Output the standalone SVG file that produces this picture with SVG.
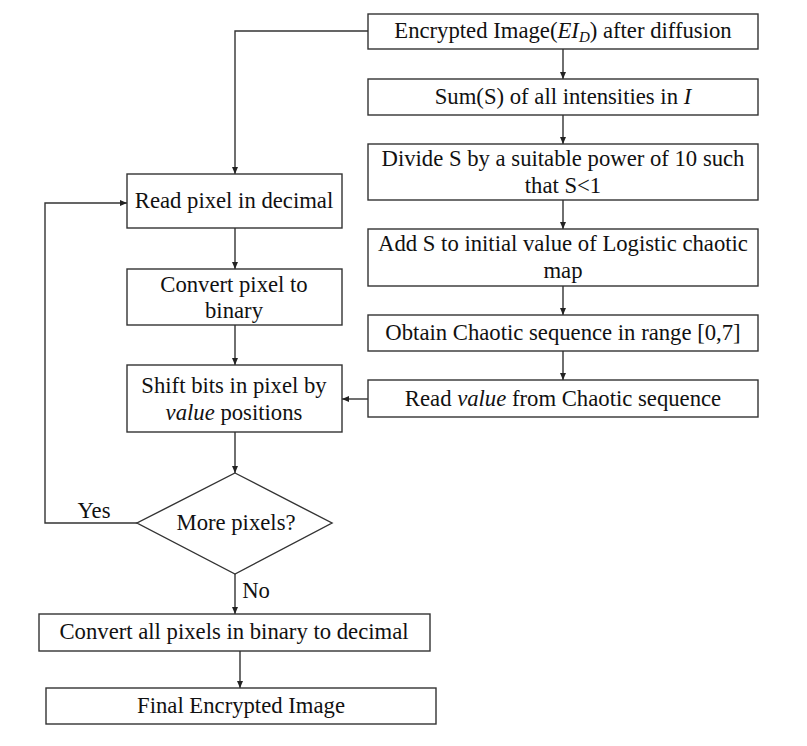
<svg xmlns="http://www.w3.org/2000/svg" width="807" height="746" viewBox="0 0 807 746">
<defs>
<marker id="ah" markerWidth="8" markerHeight="8" refX="7" refY="4" orient="auto" markerUnits="userSpaceOnUse">
<path d="M0,1 L7,4 L0,7 Z" fill="#222"/>
</marker>
<style>
.b{fill:#fff;stroke:#333;stroke-width:1.4}
.t{font-family:"Liberation Serif","Times New Roman",serif;font-size:22.7px;fill:#111;text-anchor:middle}
.c{fill:none;stroke:#333;stroke-width:1.4;marker-end:url(#ah)}
</style>
</defs>
<rect width="807" height="746" fill="#fff"/>
<g id="connectors">
<path class="c" d="M368,31 H235 V174"/>
<path class="c" d="M563,49 V79"/>
<path class="c" d="M563,115 V144"/>
<path class="c" d="M563,200 V229"/>
<path class="c" d="M563,286 V315"/>
<path class="c" d="M563,351 V380"/>
<path class="c" d="M368,399 H342"/>
<path class="c" d="M235,228 V269"/>
<path class="c" d="M235,325 V365"/>
<path class="c" d="M235,432 V473"/>
<path class="c" d="M137,523 H45 V203 H127"/>
<path class="c" d="M235,574 V614"/>
<path class="c" d="M240,651 V688"/>
<text class="t" x="94" y="518">Yes</text>
<text class="t" x="256" y="598">No</text>
</g>
<g id="n_ei"><rect class="b" x="368" y="14" width="390" height="35"/><text class="t" x="563" y="38">Encrypted Image(<tspan font-style="italic">EI</tspan><tspan font-style="italic" font-size="15" dy="4">D</tspan><tspan dy="-4">) after diffusion</tspan></text></g>
<g id="n_sum"><rect class="b" x="368" y="79" width="390" height="36"/><text class="t" x="563" y="104">Sum(S) of all intensities in <tspan font-style="italic">I</tspan></text></g>
<g id="n_div"><rect class="b" x="368" y="144" width="390" height="56"/><text class="t" x="563" y="166">Divide S by a suitable power of 10 such</text><text class="t" x="563" y="193">that S&lt;1</text></g>
<g id="n_add"><rect class="b" x="368" y="229" width="390" height="57"/><text class="t" x="563" y="251">Add S to initial value of Logistic chaotic</text><text class="t" x="563" y="278">map</text></g>
<g id="n_obt"><rect class="b" x="368" y="315" width="390" height="36"/><text class="t" x="563" y="340">Obtain Chaotic sequence in range [0,7]</text></g>
<g id="n_val"><rect class="b" x="368" y="380" width="390" height="37"/><text class="t" x="563" y="406">Read <tspan font-style="italic">value</tspan> from Chaotic sequence</text></g>
<g id="n_read"><rect class="b" x="127" y="174" width="215" height="54"/><text class="t" x="234" y="208">Read pixel in decimal</text></g>
<g id="n_conv"><rect class="b" x="127" y="269" width="215" height="56"/><text class="t" x="234" y="292">Convert pixel to</text><text class="t" x="234" y="318">binary</text></g>
<g id="n_shift"><rect class="b" x="127" y="365" width="215" height="67"/><text class="t" x="234" y="393">Shift bits in pixel by</text><text class="t" x="234" y="420"><tspan font-style="italic">value</tspan> positions</text></g>
<g id="n_more"><polygon class="b" points="235,473 332,523 235,574 137,523"/><text class="t" x="236" y="530">More pixels?</text></g>
<g id="n_all"><rect class="b" x="39" y="614" width="391" height="37"/><text class="t" x="234" y="639">Convert all pixels in binary to decimal</text></g>
<g id="n_final"><rect class="b" x="46" y="688" width="390" height="36"/><text class="t" x="241" y="713">Final Encrypted Image</text></g>
</svg>
